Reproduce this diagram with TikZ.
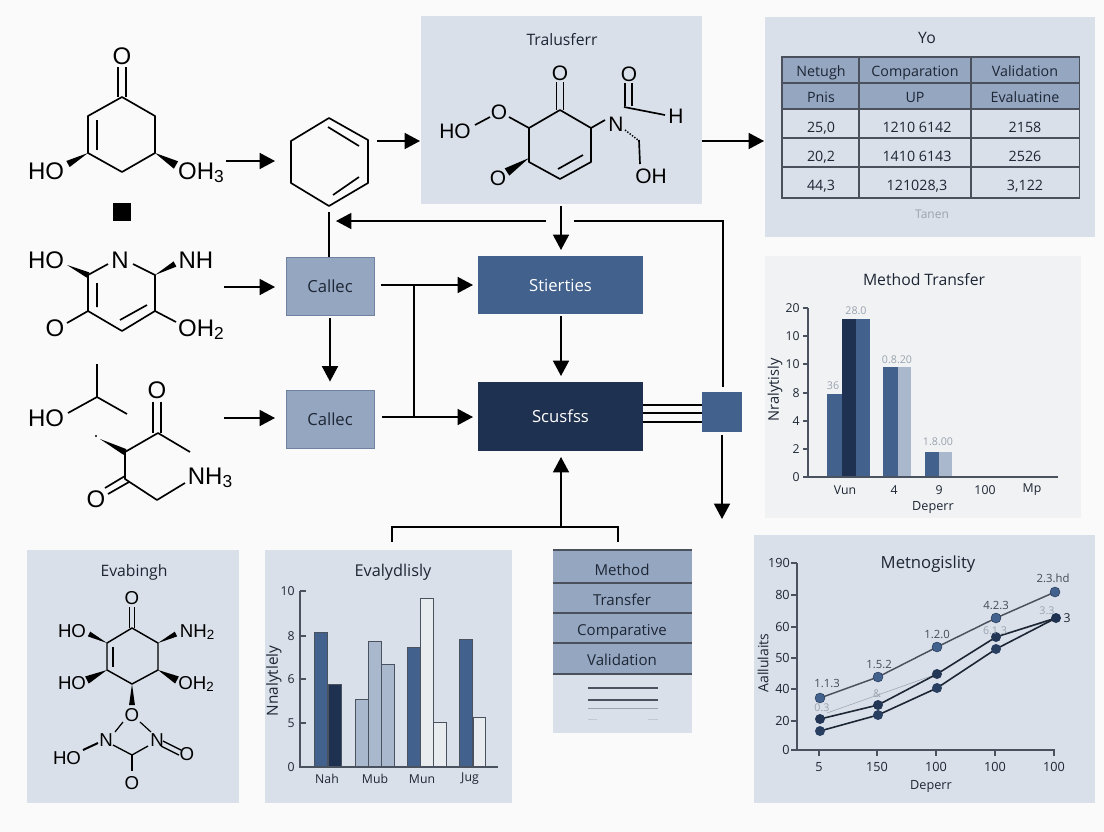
\documentclass[tikz,border=0pt]{standalone}
\usepackage{fontspec}
\setmainfont{Open Sans}
\newfontfamily\chemfont{Liberation Sans}
\usetikzlibrary{arrows.meta,calc}
\definecolor{bgc}{HTML}{FAFAFA}
\definecolor{panelc}{HTML}{D9E0EA}
\definecolor{panelg}{HTML}{F1F2F4}
\definecolor{midc}{HTML}{42618C}
\definecolor{darkc}{HTML}{1F3150}
\definecolor{boxc}{HTML}{95A6C1}
\definecolor{boxe}{HTML}{6F82A1}
\definecolor{lightc}{HTML}{A9B8CD}
\definecolor{whitec}{HTML}{E9ECEF}
\definecolor{inkc}{HTML}{1D2634}
\definecolor{axisc}{HTML}{4A5260}
\definecolor{faintc}{HTML}{9AA3AF}
\newcommand\chemsub[1]{\raisebox{-0.3ex}{\fontsize{13}{13}\selectfont #1}}
\newcommand\chemsubs[1]{\raisebox{-0.3ex}{\fontsize{10}{10}\selectfont #1}}
\newcommand\wdg[3]{\fill[black] (#1) -- ($(#2)!#3!90:(#1)$) -- ($(#2)!#3!-90:(#1)$) -- cycle;}
\tikzset{
 x=0.75pt,y=-0.75pt,
 conn/.style={line width=1.15pt,black},
 arr/.style={conn,-{Triangle[length=11.5pt,width=12pt]}},
 bond/.style={line width=1.25pt,black},
 chem/.style={font=\chemfont\fontsize{18}{18}\selectfont,anchor=base,inner sep=0pt,text=black},
 chemm/.style={font=\chemfont\fontsize{15.7}{16}\selectfont,anchor=base,inner sep=0pt,text=black},
 chems/.style={font=\chemfont\fontsize{14}{14}\selectfont,anchor=base,inner sep=0pt,text=black},
 panel/.style={fill=panelc,draw=none},
 title/.style={font=\fontsize{11.8}{12}\selectfont,text=inkc,inner sep=0pt,text height=11.4pt,text depth=3pt},
 flowbox/.style={draw=boxe,line width=.7pt,fill=boxc,font=\fontsize{12.5}{13}\selectfont,text=inkc,minimum width=66pt,minimum height=43.5pt,inner sep=0pt},
 bluebox/.style={fill=midc,font=\fontsize{12.5}{13}\selectfont,text=white,minimum width=123.75pt,minimum height=43.5pt,inner sep=0pt},
 navybox/.style={fill=darkc,font=\fontsize{12.5}{13}\selectfont,text=white,minimum width=123.75pt,minimum height=51.75pt,inner sep=0pt},
 cell/.style={font=\fontsize{10.7}{11}\selectfont,text=inkc,inner sep=0pt,text height=10pt,text depth=2.4pt},
 tick/.style={font=\fontsize{9.2}{10}\selectfont,text=inkc,inner sep=0pt},
 axisl/.style={line width=.8pt,axisc},
 barb/.style={draw=axisc,line width=.5pt},
 dot/.style={circle,inner sep=0pt,minimum size=7.5pt},
 val/.style={font=\fontsize{8}{8}\selectfont,text=faintc,inner sep=0pt},
 vald/.style={font=\fontsize{8.5}{9}\selectfont,text=axisc!90!black,inner sep=0pt},
 stackt/.style={font=\fontsize{11.3}{12}\selectfont,text=inkc,inner sep=0pt,text height=11pt,text depth=3pt},
}
\begin{document}
\begin{tikzpicture}
\useasboundingbox (0,0) rectangle (1104,832);
\fill[bgc] (0,0) rectangle (1104,832);
% panels
\fill[panel] (421,16) rectangle (702,204);
\fill[panel] (765,17) rectangle (1095,237);
\fill[panelg] (765,256) rectangle (1081,518);
\fill[panel] (754,535) rectangle (1095,803);
\fill[panel] (27,550) rectangle (239,803);
\fill[panel] (265,550) rectangle (512,803);
\fill[panel] (553,550) rectangle (692,733);

% ---- molecule 1
\draw[bond,line join=round] (122,97) -- (155,116) -- (155,153) -- (122,172) -- (88,153) -- (88,116) -- cycle;
\draw[bond] (97,120) -- (97,150);
\draw[bond] (118,67) -- (118,97) (126,67) -- (126,97);
\wdg{88,153}{68,164}{2.6pt}
\wdg{155,153}{176,165}{3.2pt}
\node[chem] (m1o) at (122,64) {O};
\node[chem] (m1ho) at (46,179) {HO};
\node[chem] (m1oh) at (201,179) {OH\chemsub{3}};
\fill[black] (113,203) rectangle (131,221);

% ---- hexagon
\draw[bond,line join=round] (329,118) -- (368,140) -- (368,183) -- (329,206) -- (291,183) -- (291,141) -- cycle;
\draw[bond] (328,127) -- (359,146) (333,195) -- (359,177);
\coordinate (hexb) at (329,212);
\coordinate (hexr) at (377,141);
\coordinate (hexl) at (275,161);
\coordinate (m1r) at (226,161);

% ---- molecule 2
\draw[bond,line join=round] (108,264) -- (88,275) -- (88,311) -- (122,331) -- (155,311) -- (155,275) -- (133,264);
\draw[bond] (97,283) -- (97,307) (120,320) -- (147,305);
\draw[bond] (88,311) -- (67,323) (155,311) -- (176,322);
\wdg{67,265}{88,275}{2.2pt}
\wdg{155,275}{175,264}{2.2pt}
\node[chem] (m2ho) at (46,268) {HO};
\node[chem] (m2n) at (120,268) {N};
\node[chem] (m2nh) at (196,268) {NH};
\node[chem] (m2o) at (55,336) {O};
\node[chem] (m2oh) at (201,336) {OH\chemsub{2}};

% ---- molecule 3
\draw[bond] (68,413) -- (97,397) -- (97,364) (97,397) -- (127,414);
\draw[bond] (153,402) -- (153,433) (161,402) -- (161,433);
\draw[bond,line join=round] (190,452) -- (158,433) -- (125,452) -- (125,479) -- (157,500) -- (185,483);
\draw[bond] (125,476) -- (105,488) (129,482) -- (108,494);
\wdg{100,439}{125,452}{2.4pt}
\fill[black] (96,436) circle (.8pt);
\node[chem] (m3ho) at (46,426) {HO};
\node[chem] (m3o) at (157,398) {O};
\node[chem] (m3ob) at (96,507) {O};
\node[chem] (m3nh) at (210,484) {NH\chemsub{3}};

% ---- flow boxes
\node[flowbox] (ca) at (330,286) {Callec};
\node[flowbox] (cb) at (330,419) {Callec};
\node[bluebox] (st) at (560.5,285) {Stierties};
\node[navybox] (sc) at (560.5,416.5) {Scusfss};
\node[fill=midc,minimum width=30pt,minimum height=30pt,inner sep=0pt] (sq) at (722,412) {};
\coordinate (tbot) at (561,206);
\coordinate (pr) at (702,141);
\coordinate (pt) at (764,141);
\coordinate (a2s) at (224,287);
\coordinate (a2e) at (275,287);
\coordinate (a3s) at (224,418);
\coordinate (a3e) at (275,418);
\coordinate (fbt) at (336,221);
\coordinate (fba) at (546,221);
\coordinate (fbb) at (574,221);
\coordinate (fbc) at (723,221);
\coordinate (sqt) at (723,387);
\coordinate (sqb) at (722,435);
\coordinate (sqe) at (722,519);
\coordinate (brl) at (392,542);
\coordinate (brr) at (618,542);
\coordinate (brc) at (561,527);
\coordinate (sci) at (561,457);
\coordinate (sti) at (561,250);
\coordinate (sto) at (561,316);
\coordinate (sct) at (561,376);

\draw[arr] (m1r) -- (hexl);
\draw[arr] (hexr) -- (420,141);
\draw[arr] (pr) -- (pt);
\draw[arr] (a2s) -- (a2e);
\draw[arr] (a3s) -- (a3e);
\draw[conn] (hexb) -- (ca.north -| hexb);
\draw[arr] (fba) -- (fbt);
\draw[conn] (fbb) -- (fbc) -- (sqt);
\draw[arr] (sqb) -- (sqe);
\draw[arr] (tbot) -- (sti);
\draw[arr] (sto) -- (sct);
\draw[arr,shorten <=2pt,shorten >=6pt] (ca) -- (cb);
\draw[arr] (brc) -- (sci);
\draw[conn] (brl) |- (brc) -| (brr);
\draw[arr] (ca.east |- 0,285) ++(7,0) -- (473,285);
\draw[arr] (cb.east |- 0,417) ++(8,0) -- (473,417);
\draw[conn] (414,285) -- (414,417);
\draw[conn] (sc.east |- 0,405) -- (sq.west |- 0,405);
\draw[conn] (sc.east |- 0,413) -- (sq.west |- 0,413);
\draw[conn] (sc.east |- 0,422) -- (sq.west |- 0,422);

% ---- transfer molecule
\node[title] (tt) at (562,40) {Tralusferr};
\draw[bond,line join=round] (560,110) -- (591,128) -- (591,162) -- (560,179) -- (529,162) -- (529,128) -- cycle;
\draw[bond] (556.5,82) -- (556.5,110) (563.5,82) -- (563.5,110);
\draw[bond] (558,169) -- (583,155);
\draw[bond] (509,117) -- (529,128) (475,125) -- (490,117);
\draw[bond] (591,128) -- (605,120);
\wdg{529,158}{507,172}{3.2pt}
\draw[bond] (625,83) -- (625,106) (632,83) -- (632,106);
\draw[bond] (624,107) -- (665,115);
\draw[bond] (639,140) -- (640,164);
\draw[line width=1.1pt,dash pattern=on 1pt off 1.2pt] (625,130) -- (638,140);
\node[chemm] (to) at (560,80) {O};
\node[chemm] (to2) at (629,81) {O};
\node[chemm] (th) at (676,123) {H};
\node[chemm] (tn) at (616,131) {N};
\node[chemm] (toh) at (651,183) {OH};
\node[chemm] (tol) at (499,119) {O};
\node[chemm] (tob) at (498,185) {O};
\node[chemm] (tho) at (455,138) {HO};

% ---- table
\fill[boxc] (782,57) rectangle (1079.5,109);
\draw[axisl,line width=.9pt,inkc!80] (782,57) rectangle (1079.5,198);
\foreach \yy in {83,109,138,167}{\draw[axisl,line width=.8pt,inkc!80] (782,\yy) -- (1079.5,\yy);}
\foreach \xx in {859,971}{\draw[axisl,line width=.8pt,inkc!80] (\xx,57) -- (\xx,198);}
\node[title] (yo) at (927,38) {Yo};
\node[cell] (c11) at (821,71) {Netugh};
\node[cell] (c12) at (915,71) {Comparation};
\node[cell] (c13) at (1025,71) {Validation};
\node[cell] (c21) at (821,97) {Pnis};
\node[cell] (c22) at (915,97) {UP};
\node[cell] (c23) at (1025,97) {Evaluatine};
\node[cell] (c31) at (821,127) {25,0};
\node[cell] (c32) at (917,127) {1210 6142};
\node[cell] (c33) at (1025,127) {2158};
\node[cell] (c41) at (821,156) {20,2};
\node[cell] (c42) at (917,156) {1410 6143};
\node[cell] (c43) at (1025,156) {2526};
\node[cell] (c51) at (821,185) {44,3};
\node[cell] (c52) at (917,185) {121028,3};
\node[cell] (c53) at (1025,185) {3,122};
\node[font=\fontsize{9}{9}\selectfont,text=faintc,inner sep=0pt] (tan) at (932,214) {Tanen};

% ---- bar chart method transfer
\node[title] (mt) at (924,280) {Method Transfer};
\fill[midc] (827,394) rectangle (842,477);
\fill[darkc] (842,319) rectangle (856,477);
\fill[midc] (856,319) rectangle (870,477);
\fill[midc] (883,367) rectangle (898,477);
\fill[lightc] (898,367) rectangle (911,477);
\fill[midc] (925,452) rectangle (939,477);
\fill[lightc] (939,452) rectangle (952,477);
\draw[axisl] (808,308) -- (808,477) -- (1058,477);
\foreach \yy/\tt in {308/20,336/10,364/10,393/8,421/4,449/2,477/0}{
 \draw[axisl] (808,\yy) -- (803,\yy);
 \node[tick,anchor=east] at (800,\yy) {\tt};}
\node[val] (b1) at (833,386) {36};
\node[val] (b2) at (856,311) {28.0};
\node[val] (b3) at (897,360) {0.8.20};
\node[val] (b4) at (938,442) {1.8.00};
\node[tick] (x1) at (845,490) {Vun};
\node[tick] (x2) at (894,490) {4};
\node[tick] (x3) at (939,490) {9};
\node[tick] (x4) at (985,490) {100};
\node[tick] (x5) at (1032,490) {Mp};
\node[tick,font=\fontsize{9.5}{10}\selectfont] (xl) at (933,507) {Deperr};
\node[tick,font=\fontsize{11}{11}\selectfont,rotate=90] (yl) at (775,390) {Nralytisly};

% ---- line chart
\node[title,font=\fontsize{12.5}{13}\selectfont] (mg) at (928,563) {Metnogislity};
\draw[axisl,line width=1pt] (797,563) -- (797,750) -- (1055,750);
\foreach \yy/\tt in {563/190,595/80,627/60,658/50,689/40,721/20,750/0}{
 \draw[axisl] (797,\yy) -- (791,\yy);
 \node[tick,font=\fontsize{9.5}{10}\selectfont,anchor=east] at (790,\yy) {\tt};}
\foreach \xx/\tt in {819/5,877/150,936/100,995/100,1054/100}{
 \draw[axisl] (\xx,750) -- (\xx,756);
 \node[tick,font=\fontsize{9.5}{10}\selectfont] at (\xx,767) {\tt};}
\node[tick,font=\fontsize{9.5}{10}\selectfont] (dp) at (931,786) {Deperr};
\node[tick,font=\fontsize{10.5}{11}\selectfont,rotate=90] (al) at (763,663) {Aallulaits};
\draw[faintc,line width=.4pt] (827,713) -- (937,674) (1006,634) -- (1050,621);
\draw[axisl,line width=1.1pt,inkc!80] (820,698) -- (878,677) -- (937,647) -- (996,618) -- (1055,592);
\draw[line width=1.2pt,inkc] (820,719) -- (878,705) -- (937,674) -- (996,637) -- (1056,618);
\draw[line width=1.2pt,inkc] (820,731) -- (878,715) -- (937,688) -- (996,649) -- (1056,618);
\foreach \nn/\xx/\yy in {1/820/698,2/878/677,3/937/647,4/996/618,5/1055/592}{
 \node[dot,fill=midc,draw=darkc,line width=.3pt] (pa\nn) at (\xx,\yy) {};}
\foreach \nn/\xx/\yy in {1/820/719,2/878/705,3/937/674,4/996/637}{
 \node[dot,fill=darkc!90!midc] (pb\nn) at (\xx,\yy) {};}
\foreach \nn/\xx/\yy in {1/820/731,2/878/715,3/937/688,4/996/649}{
 \node[dot,fill=darkc!70!midc] (pc\nn) at (\xx,\yy) {};}
\node[dot,fill=darkc] (pe) at (1056,618) {};
\node[vald] (l1) at (827,683) {1.1.3};
\node[vald] (l2) at (879,664) {1.5.2};
\node[vald] (l3) at (937,634) {1.2.0};
\node[vald] (l4) at (996,605) {4.2.3};
\node[vald] (l5) at (1053,578) {2.3.hd};
\node[val] (l6) at (822,708) {0.3};
\node[val] (l7) at (877,694) {\&};
\node[val] (l8) at (995,631) {6.1.3};
\node[val] (l9) at (1047,611) {3.3};
\node[tick] (l10) at (1067,618) {3};

% ---- Evabingh molecule
\node[title] (ev) at (134,571) {Evabingh};
\draw[bond,line width=1.1pt,line join=round] (132,628) -- (158,643) -- (158,670) -- (132,684) -- (107,670) -- (107,643) -- cycle;
\draw[bond,line width=1.1pt] (113,647) -- (113,667);
\draw[bond,line width=1.1pt] (129.5,607) -- (129.5,628) (134.5,607) -- (134.5,628);
\wdg{107,643}{89,634}{2pt}
\wdg{158,643}{176,634}{2pt}
\wdg{107,670}{87,680}{3pt}
\wdg{158,670}{177,680}{3pt}
\wdg{132,684}{132,705}{2.2pt}
\draw[bond,line width=.9pt] (123,722) -- (115,732) (140,722) -- (151,732);
\draw[bond,line width=1pt] (113,745) -- (132,755) -- (148,746);
\draw[bond,line width=1.5pt] (132,755) -- (132,771);
\draw[bond,line width=1.5pt] (83,750) -- (98,743);
\draw[bond,line width=1pt] (163,741) -- (181,750) (161,746) -- (179,755);
\node[chems] (ev1) at (132,604) {O};
\node[chems] (ev2) at (72,637) {HO};
\node[chems] (ev3) at (197,637) {NH\chemsubs{2}};
\node[chems] (ev4) at (72,689) {HO};
\node[chems] (ev5) at (196,689) {OH\chemsubs{2}};
\node[chems] (ev6) at (132,721) {O};
\node[chems] (ev7) at (106,746) {N};
\node[chems] (ev8) at (157,746) {N};
\node[chems] (ev9) at (67,764) {HO};
\node[chems] (ev10) at (187,760) {O};
\node[chems] (ev11) at (132,789) {O};

% ---- Evalydlisly bars
\node[title,font=\fontsize{12.2}{13}\selectfont] (ey) at (393,571) {Evalydlisly};
\foreach \xa/\xb/\yy/\cc in {314/327/632/midc,328/341/684/darkc,355/368/699/lightc,368/381/641/lightc,381/394/664/lightc,407/420/647/midc,420/433/598/whitec,433/446/722/whitec,459/472/639/midc,473/485/717/whitec}{
 \draw[barb,fill=\cc] (\xa,\yy) rectangle (\xb,767);}
\draw[axisl] (300,591) -- (300,767) -- (498,767);
\foreach \yy/\tt in {591/10,636/8,679/6,723/5,767/0}{
 \draw[axisl] (300,\yy) -- (306,\yy);
 \node[tick,anchor=east] at (295,\yy) {\tt};}
\node[tick] (e1) at (327,779) {Nah};
\node[tick] (e2) at (375,779) {Mub};
\node[tick] (e3) at (422,779) {Mun};
\node[tick] (e4) at (470,779) {Jug};
\node[tick,font=\fontsize{11.5}{12}\selectfont,rotate=90] (e5) at (274,681) {Nnalytlely};

% ---- method stack
\fill[boxc] (553,550) rectangle (692,674);
\foreach \yy in {550,583,613,643,674}{\draw[axisl,line width=.8pt,inkc!80] (553,\yy) -- (692,\yy);}
\node[stackt] (s1) at (622,570) {Method};
\node[stackt] (s2) at (622,600) {Transfer};
\node[stackt] (s3) at (622,630) {Comparative};
\node[stackt] (s4) at (622,660) {Validation};
\draw[axisl] (588,688) -- (658,688) (588,700) -- (658,700);
\draw[faintc,line width=.7pt] (588,708) -- (658,708);
\draw[faintc!60,line width=.5pt] (588,719) -- (597,719) (648,719) -- (658,719);
\end{tikzpicture}
\end{document}
